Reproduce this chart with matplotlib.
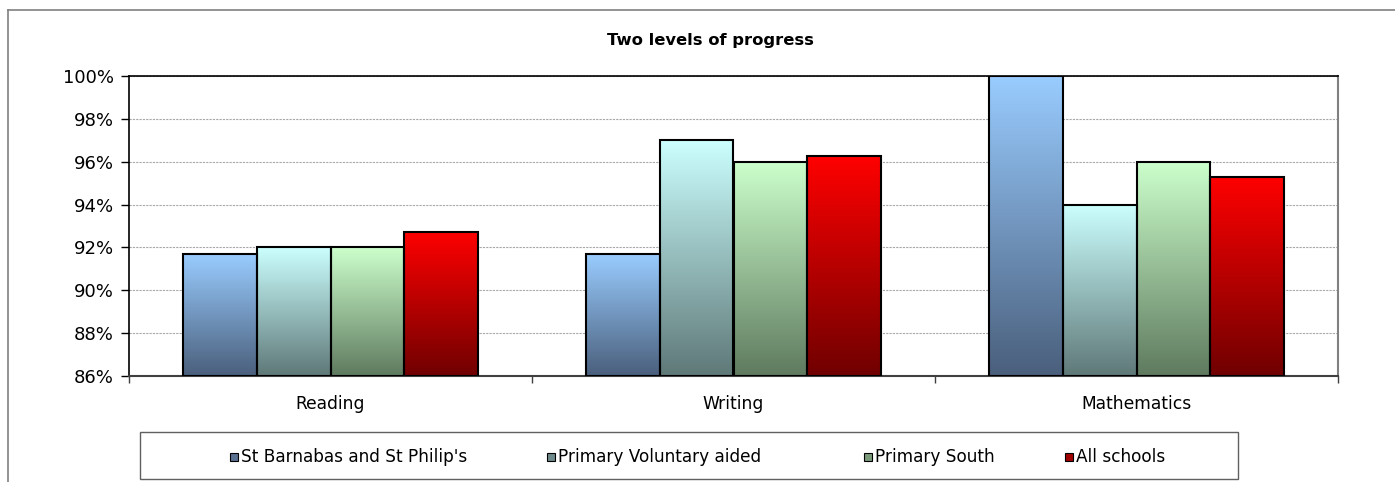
import matplotlib
matplotlib.use("Agg")
import matplotlib.pyplot as plt
from matplotlib.colors import LinearSegmentedColormap
from matplotlib.patches import Rectangle
from matplotlib.lines import Line2D
import numpy as np

# Données du graphique
categories = ["Reading", "Writing", "Mathematics"]
series = ["St Barnabas and St Philip's", "Primary Voluntary aided", "Primary South", "All schools"]
st_barnabas = [91.67, 91.67, 100.0]
voluntary_aided = [92.0, 97.0, 94.0]
primary_south = [92.0, 96.0, 96.0]
all_schools = [92.73, 96.25, 95.3]
values = [st_barnabas, voluntary_aided, primary_south, all_schools]

# Couleurs en dégradé (haut, bas)
top_colors = ["#99CCFF", "#CCFFFF", "#CCFFCC", "#FF0000"]
bottom_colors = ["#4A5F7C", "#5F7878", "#5F7A5F", "#700000"]
legend_colors = ["#5A7090", "#6E8A8A", "#7A9A7A", "#A00000"]

plt.rcParams['font.family'] = ['DejaVu Sans']

fig = plt.figure(figsize=(13.95, 4.82), dpi=100)
ax = fig.add_axes([129 / 1395, 1 - 376 / 482, (1338 - 129) / 1395, 300 / 482])

y_min, y_max = 86, 100
n = len(series)
width = 0.1825
x = np.arange(len(categories))

for i, vals in enumerate(values):
    offset = (i - (n - 1) / 2) * width
    bars = ax.bar(x + offset, [v - y_min for v in vals], width, bottom=y_min,
                  facecolor="none", edgecolor="black", linewidth=1.5, zorder=4)
    cmap = LinearSegmentedColormap.from_list("g%d" % i, [bottom_colors[i], top_colors[i]])
    grad = np.linspace(0, 1, 256).reshape(-1, 1)
    for b in bars:
        x0, y0 = b.get_x(), b.get_y()
        ax.imshow(grad, cmap=cmap, origin="lower", aspect="auto",
                  extent=(x0, x0 + b.get_width(), y0, y0 + b.get_height()), zorder=3)

ax.set_xlim(-0.5, len(categories) - 0.5)
ax.set_ylim(y_min, y_max)

ax.set_yticks(np.arange(86, 101, 2))
ax.set_yticklabels(["%d%%" % v for v in np.arange(86, 101, 2)])
ax.yaxis.grid(True, color="#A8A8A8", linestyle=(0, (2, 1)), linewidth=0.8, zorder=0)
ax.set_axisbelow(True)

# Graduations entre catégories
ax.set_xticks(np.arange(-0.5, len(categories), 1))
ax.set_xticklabels([])
ax.set_xticks(x, minor=True)
ax.set_xticklabels(categories, minor=True)
ax.tick_params(axis="x", which="minor", length=0, pad=14, labelsize=12.3)
ax.tick_params(axis="x", which="major", length=5, width=1, color="#404040")
ax.tick_params(axis="y", length=6, width=1, labelsize=13, pad=5)

for side in ["left", "top"]:
    ax.spines[side].set_color("black")
    ax.spines[side].set_linewidth(1.2)
ax.spines["bottom"].set_color("#404040")
ax.spines["bottom"].set_linewidth(1.5)
ax.spines["right"].set_color("#808080")
ax.spines["right"].set_linewidth(1.5)

fig.text(710 / 1395, 1 - 41 / 482, "Two levels of progress", ha="center", va="center",
         fontsize=11.8, fontweight="bold")

# Bordure du graphique
fig.add_artist(Line2D([8 / 1395, 8 / 1395], [0, 1 - 10 / 482], color="#808080", lw=1.2))
fig.add_artist(Line2D([8 / 1395, 1], [1 - 10 / 482, 1 - 10 / 482], color="#808080", lw=1.2))

# Légende
fig.add_artist(Rectangle((140 / 1395, 1 - 479 / 482), (1238 - 140) / 1395, 47 / 482,
                         transform=fig.transFigure, facecolor="white", edgecolor="#606060", lw=1.0))
legend_x = [230, 547, 864, 1065]
for i, name in enumerate(series):
    fig.add_artist(Rectangle((legend_x[i] / 1395, 1 - 461 / 482), 8 / 1395, 8 / 482,
                             transform=fig.transFigure, facecolor=legend_colors[i],
                             edgecolor="black", lw=0.8))
    fig.text((legend_x[i] + 11) / 1395, 1 - 457 / 482, name, ha="left", va="center", fontsize=12.2)

fig.savefig("out.png", dpi=100)
